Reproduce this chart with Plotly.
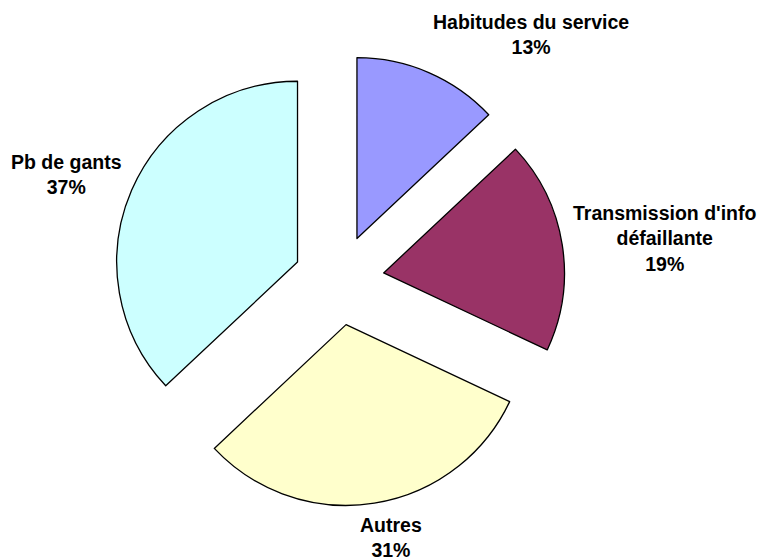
import plotly.graph_objects as go

categories = ["Habitudes du service", "Transmission d'info défaillante", "Autres", "Pb de gants"]
display_labels = ["Habitudes du service", "Transmission d'info<br>défaillante", "Autres", "Pb de gants"]
values = [13, 19, 31, 37]
colors = ["#9999FF", "#993366", "#FFFFCC", "#CCFFFF"]
pulls = [0.25, 0.25, 0.25, 0.25]

W, H = 769, 560

# label anchor positions (pixels from top-left -> paper coords)
label_px = [523, 657, 383, 58]
label_py = [26, 230, 529, 166]
label_x = [p / W for p in label_px]
label_y = [1 - p / H for p in label_py]

cx, cy, half = 331, 272, 226

fig = go.Figure()
fig.add_trace(go.Pie(
    labels=categories,
    values=values,
    sort=False,
    direction="clockwise",
    rotation=0,
    pull=pulls,
    textinfo="none",
    hoverinfo="label+percent",
    marker=dict(colors=colors, line=dict(color="black", width=1.3)),
    domain=dict(x=[(cx - half) / W, (cx + half) / W],
                y=[1 - (cy + half) / H, 1 - (cy - half) / H]),
))

total = sum(values)
for lab, v, x, y in zip(display_labels, values, label_x, label_y):
    pct = round(100 * v / total)
    fig.add_annotation(
        x=x, y=y, xref="paper", yref="paper",
        text=f"<b>{lab}</b><br><b>{pct}%</b>",
        showarrow=False, xanchor="center", yanchor="middle",
        align="center",
        font=dict(family="Arial, Liberation Sans, sans-serif", size=19.5, color="black"),
    )

fig.update_layout(
    width=W, height=H,
    margin=dict(l=0, r=0, t=0, b=0),
    paper_bgcolor="white",
    plot_bgcolor="white",
    showlegend=False,
)

fig.write_html("out.html")
